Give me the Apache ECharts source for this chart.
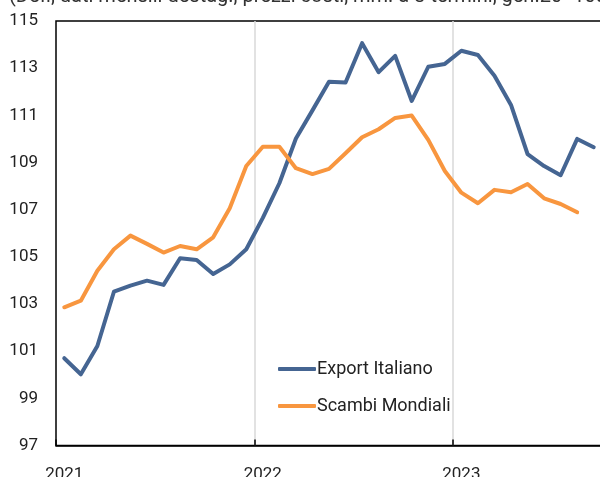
<!DOCTYPE html>
<html>
<head>
<meta charset="utf-8">
<script src="https://cdn.jsdelivr.net/npm/echarts@6/dist/echarts.min.js"></script>
<style>
html,body{margin:0;padding:0;background:#fff;}
#chart{width:600px;height:477px;}
</style>
</head>
<body>
<div id="chart"></div>
<script>
var months = [
  '2021-01','2021-02','2021-03','2021-04','2021-05','2021-06','2021-07','2021-08','2021-09','2021-10','2021-11','2021-12',
  '2022-01','2022-02','2022-03','2022-04','2022-05','2022-06','2022-07','2022-08','2022-09','2022-10','2022-11','2022-12',
  '2023-01','2023-02','2023-03','2023-04','2023-05','2023-06','2023-07','2023-08','2023-09'
];
var exportItaliano = [
  100.70, 100.02, 101.22, 103.52, 103.78, 103.99, 103.81, 104.94, 104.87, 104.27, 104.68, 105.32,
  106.65, 108.12, 110.02, 111.21, 112.42, 112.39, 114.06, 112.83, 113.52, 111.61, 113.06, 113.18,
  113.74, 113.56, 112.68, 111.44, 109.36, 108.85, 108.46, 110.00, 109.65
];
var scambiMondiali = [
  102.86, 103.14, 104.41, 105.32, 105.90, 105.55, 105.18, 105.46, 105.32, 105.83, 107.06, 108.85,
  109.67, 109.67, 108.76, 108.51, 108.73, 109.39, 110.07, 110.41, 110.89, 110.99, 109.96, 108.64,
  107.72, 107.27, 107.84, 107.74, 108.09, 107.48, 107.24, 106.89
];
var yLabels = [97, 99, 101, 103, 105, 107, 109, 111, 113, 115];
var subtitleText = '(Defl, dati mensili destag., prezzi costi, mm. a 3 termini, gen.20=100)';

var chart = echarts.init(document.getElementById('chart'), null, {renderer: 'canvas'});
var isYearStart = function (idx) { return idx % 12 === 0; };
chart.setOption({
  animation: false,
  backgroundColor: '#ffffff',
  graphic: [{
    type: 'text',
    left: 9,
    top: -13,
    style: {text: subtitleText, font: '20px Roboto', fill: '#333333'}
  }],
  grid: {
    left: 56, top: 21, width: 546, height: 424.5,
    outerBoundsMode: 'none', containLabel: false,
    show: true, borderColor: '#000000', borderWidth: 1.5, backgroundColor: 'transparent'
  },
  legend: {
    orient: 'vertical',
    left: 273,
    top: 355,
    itemGap: 19,
    itemWidth: 38,
    itemHeight: 4,
    icon: 'roundRect',
    textStyle: {fontFamily: 'Roboto', fontSize: 18, color: '#222222', padding: [0, 0, 0, -4]},
    data: ['Export Italiano', 'Scambi Mondiali']
  },
  xAxis: {
    type: 'category',
    data: months,
    boundaryGap: true,
    axisLine: {show: true, lineStyle: {color: '#000000', width: 1.5}},
    axisTick: {show: true, inside: true, length: 6, interval: function (i) { return isYearStart(i); }, lineStyle: {color: '#000000', width: 1.5}},
    splitLine: {show: true, interval: function (i) { return isYearStart(i) && i > 0; }, lineStyle: {color: '#d9d9d9', width: 1.5}},
    axisLabel: {
      interval: function (i) { return isYearStart(i); },
      formatter: function (v) { return v.slice(0, 4); },
      fontFamily: 'Roboto', fontSize: 17, color: '#222222', margin: 21
    }
  },
  yAxis: {
    type: 'value',
    min: 97, max: 115, interval: 1,
    axisLine: {show: false},
    axisTick: {show: false},
    splitLine: {show: false},
    axisLabel: {
      formatter: function (v) { return yLabels.indexOf(v) >= 0 ? String(v) : ''; },
      fontFamily: 'Roboto', fontSize: 17, color: '#222222', margin: 18
    }
  },
  series: [
    {
      name: 'Export Italiano', type: 'line', data: exportItaliano,
      symbol: 'none', smooth: false,
      lineStyle: {color: '#456592', width: 4, cap: 'round', join: 'round'},
      itemStyle: {color: '#456592'}
    },
    {
      name: 'Scambi Mondiali', type: 'line', data: scambiMondiali,
      symbol: 'none', smooth: false,
      lineStyle: {color: '#f8963f', width: 4, cap: 'round', join: 'round'},
      itemStyle: {color: '#f8963f'}
    }
  ]
});
</script>
</body>
</html>
